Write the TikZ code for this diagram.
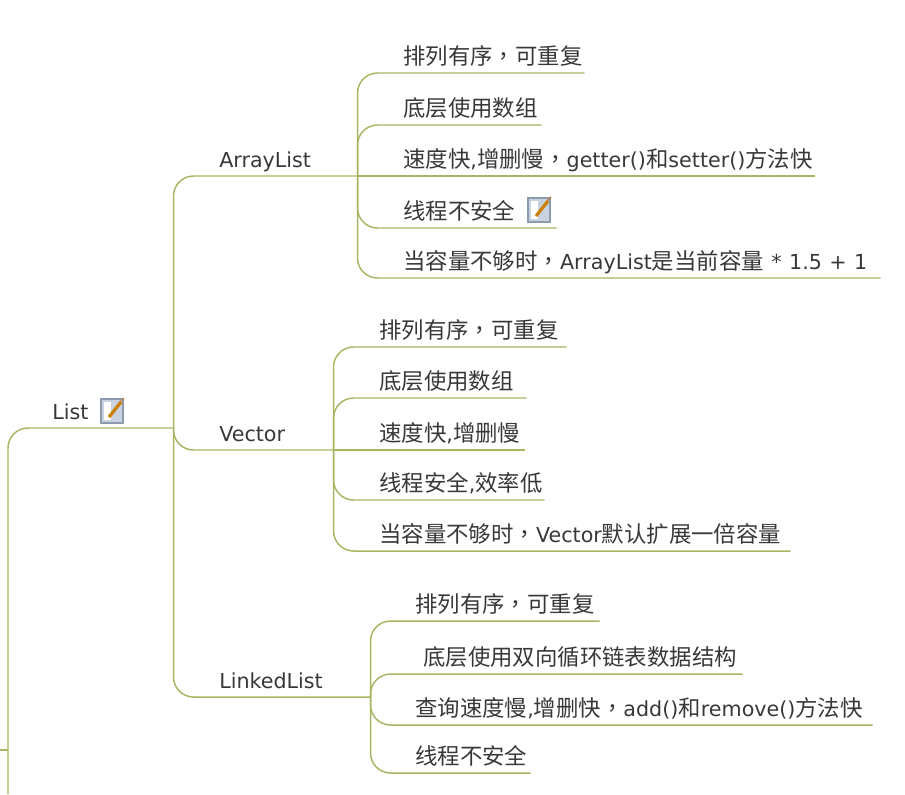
\documentclass[tikz,border=0pt]{standalone}
\usepackage{fontspec}
\setmainfont{DejaVu Sans}
\newfontfamily\latn{DejaVu Sans}
\newfontfamily\cjk{Noto Sans CJK SC}
\newfontfamily\cjktc{Noto Sans CJK TC}
\newcommand{\en}[1]{{\latn\fontsize{15.5}{20}\selectfont #1}}
\newcommand{\dou}{{\cjktc ，}}
\definecolor{branchcol}{HTML}{A9B562}
\definecolor{halocol}{HTML}{F7FAE0}
\definecolor{inkcol}{HTML}{383838}
\definecolor{iconedge}{HTML}{8C9AB0}
\definecolor{iconfill}{HTML}{C9D3E0}
\tikzset{
  leaf/.style={anchor=south west, inner sep=0pt, align=left, text=inkcol,
    text height=15pt, text depth=6.5pt, font=\cjk\fontsize{16.8}{20}\selectfont},
  topic/.style={leaf, font=\latn\fontsize{15.5}{20}\selectfont},
  branch/.style={draw=branchcol, line width=1.1pt, rounded corners=15pt},
  noteicon/.pic={
    \draw[draw=iconedge, fill=iconfill, line width=.9pt] (-11,-12) rectangle (11,12);
    \fill[white] (-8,-9) rectangle (-1,9);
    \draw[draw=orange!60!olive, line width=2.4pt] (-3,6) -- (9,-9);
    \draw[draw=brown, line width=.9pt] (8,-9) -- (12,-13);
  }
}
\begin{document}
\begin{tikzpicture}[x=0.75pt, y=-0.75pt]
    \useasboundingbox (0,0) rectangle (905,794);

    % Topics
    \node[topic, text width=121*.75pt] (list) at (52,428) {List};
    \node[topic, text width=138*.75pt] (arraylist) at (219,176) {ArrayList};
    \node[topic, text width=114*.75pt] (vector) at (219,450) {Vector};
    \node[topic, text width=151*.75pt] (linkedlist) at (219,697) {LinkedList};

    % ArrayList leaves
    \node[leaf, text width=181*.75pt] (al1) at (403,73) {排列有序\dou 可重复};
    \node[leaf, text width=138*.75pt] (al2) at (403,125) {底层使用数组};
    \node[leaf, text width=411*.75pt] (al3) at (403,176) {速度快\en{,}增删慢\dou\en{getter()}和\en{setter()}方法快};
    \node[leaf, text width=153*.75pt] (al4) at (403,228) {线程不安全};
    \node[leaf, text width=477*.75pt] (al5) at (403,278) {当容量不够时\dou\en{ArrayList}是当前容量\en{ * 1.5 + 1}};

    % Vector leaves
    \node[leaf, text width=187*.75pt] (vec1) at (379,347) {排列有序\dou 可重复};
    \node[leaf, text width=147*.75pt] (vec2) at (379,398) {底层使用数组};
    \node[leaf, text width=145*.75pt] (vec3) at (379,450) {速度快\en{,}增删慢};
    \node[leaf, text width=165*.75pt] (vec4) at (379,500) {线程安全\en{,}效率低};
    \node[leaf, text width=411*.75pt] (vec5) at (379,551) {当容量不够时\dou\en{Vector}默认扩展一倍容量};

    % LinkedList leaves
    \node[leaf, text width=184*.75pt] (ll1) at (415,621) {排列有序\dou 可重复};
    \node[leaf, text width=319*.75pt] (ll2) at (423,674) {底层使用双向循环链表数据结构};
    \node[leaf, text width=457*.75pt] (ll3) at (415,725) {查询速度慢\en{,}增删快\dou\en{add()}和\en{remove()}方法快};
    \node[leaf, text width=115*.75pt] (ll4) at (415,773) {线程不安全};

    % Free ends on the left edge
    \coordinate (rootend) at (8,794);
    \coordinate (rootjoin) at (8,750);
    \coordinate (rootstub) at (0,750);

    % Branches
    \draw[branch] (rootend) |- (list.south east);
    \draw[branch] (rootstub) -- (rootjoin);
    \draw[branch] (list.south east) |- (arraylist.south east);
    \draw[branch] (list.south east) |- (vector.south east);
    \draw[branch] (list.south east) |- (linkedlist.south east);

    \draw[branch] (arraylist.south east) |- (al1.south east);
    \draw[branch] (arraylist.south east) |- (al2.south east);
    \draw[branch] (arraylist.south east) -- (al3.south east);
    \draw[branch] (arraylist.south east) |- (al4.south east);
    \draw[branch] (arraylist.south east) |- (al5.south east);

    \draw[branch] (vector.south east) |- (vec1.south east);
    \draw[branch] (vector.south east) |- (vec2.south east);
    \draw[branch] (vector.south east) -- (vec3.south east);
    \draw[branch] (vector.south east) |- (vec4.south east);
    \draw[branch] (vector.south east) |- (vec5.south east);

    \draw[branch] (linkedlist.south east) |- (ll1.south east);
    \draw[branch] (linkedlist.south east) |- (ll2.south east);
    \draw[branch] (linkedlist.south east) |- (ll3.south east);
    \draw[branch] (linkedlist.south east) |- (ll4.south east);

    % Note icons
    \pic at (112,411) {noteicon};
    \pic at (539,210) {noteicon};
\end{tikzpicture}
\end{document}
